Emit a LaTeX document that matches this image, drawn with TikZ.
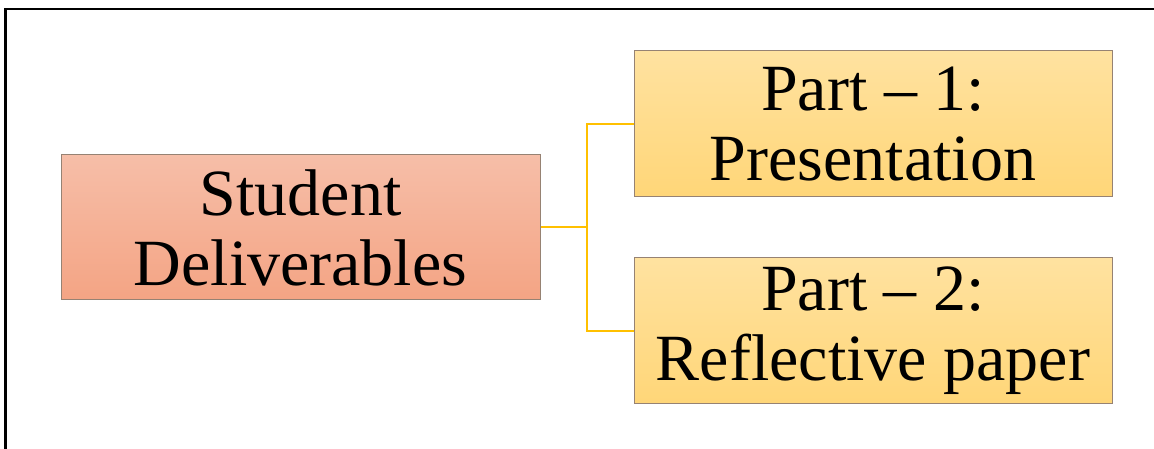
\documentclass[tikz,border=0pt]{standalone}
\usepackage{fontspec}
\setmainfont{Liberation Serif}
\definecolor{salmonTop}{RGB}{246,190,168}
\definecolor{salmonBot}{RGB}{244,164,132}
\definecolor{goldTop}{RGB}{255,226,160}
\definecolor{goldBot}{RGB}{255,214,120}
\definecolor{boxline}{RGB}{150,130,115}
\definecolor{conn}{RGB}{255,192,0}
\begin{document}
\begin{tikzpicture}[x=1pt,y=1pt,
  box/.style={draw=boxline, line width=1pt, inner sep=0pt, align=center,
    font=\fontsize{66}{70}\selectfont},
  rootbox/.style={box, top color=salmonTop, bottom color=salmonBot, minimum width=479pt, minimum height=145pt},
  leafbox/.style={box, top color=goldTop, bottom color=goldBot, minimum width=478pt, minimum height=146pt},
  link/.style={draw=conn, line width=2pt}]
\useasboundingbox (0,0) rectangle (1154,449);
\draw[line width=2.5pt, line cap=rect] (5.5,0) -- (5.5,440) -- (1154,440);
\node[rootbox] (root) at (300.5,221.5) {Student\\Deliverables};
\node[leafbox] (p1) at (873,325) {Part -- 1:\\Presentation};
\node[leafbox] (p2) at (873,118) {Part -- 2:\\Reflective paper};
\coordinate (j) at (587,221.5);
\draw[link] (root.east) -- (j);
\draw[link] (j) |- (p1.west);
\draw[link] (j) |- (p2.west);
\end{tikzpicture}
\end{document}
